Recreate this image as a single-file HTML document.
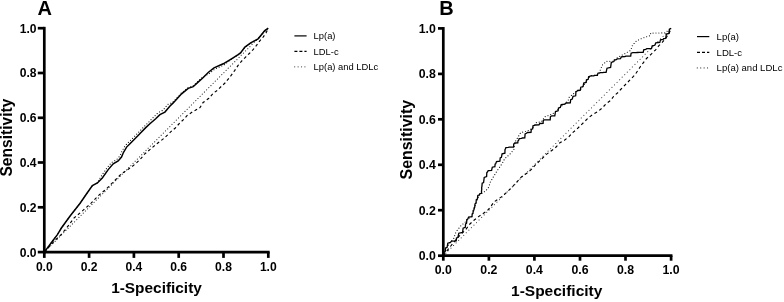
<!DOCTYPE html>
<html><head><meta charset="utf-8"><title>ROC curves</title>
<style>
html,body{margin:0;padding:0;background:#fff;}
body{width:784px;height:302px;overflow:hidden;}
svg{display:block;filter:blur(0.4px);font-family:"Liberation Sans",sans-serif;fill:#000;}
</style></head>
<body>
<svg width="784" height="302" viewBox="0 0 784 302">
<rect x="0" y="0" width="784" height="302" fill="#fff"/>
<g>
<path d="M44.3,252.1 L268.3,28.2" stroke="#333" stroke-width="1.15" stroke-linecap="round" stroke-dasharray="0.01 3.05" fill="none"/>
<path d="M44.3,252.1 L52.4,241.3 L57.4,234.6 L61.4,228.0 L69.9,216.3 L80.1,203.2 L86.6,193.8 L92.4,185.5 L97.4,183.0 L100.8,176.7 L106.7,168.3 L111.7,162.5 L116.7,159.6 L120.0,155.8 L121.7,151.7 L125.1,145.8 L129.2,141.6 L135.9,135.0 L140.0,130.8 L144.0,126.6 L148.4,122.4 L153.8,116.9 L158.0,112.7 L163.0,110.2 L167.9,104.4 L172.7,102.3 L181.1,93.2 L187.7,87.8 L192.7,86.1 L197.6,81.5 L202.5,77.2 L209.0,73.7 L214.8,69.1 L224.0,65.0 L231.5,59.1 L238.1,55.0 L240.5,53.2 L244.9,47.4 L250.7,43.2 L258.1,39.1 L264.8,30.5 L268.3,28.2" stroke="#111" stroke-width="1.15" stroke-linecap="round" stroke-dasharray="0.01 2.9" fill="none"/>
<path d="M44.3,252.1 L54.9,240.4 L60.7,235.0 L66.2,228.5 L74.1,217.9 L82.4,210.9 L91.1,203.2 L98.2,195.8 L106.5,188.8 L117.3,178.0 L121.5,173.7 L126.5,170.4 L131.5,167.1 L136.4,163.0 L140.6,158.8 L144.8,153.9 L154.8,145.4 L163.9,138.4 L172.2,130.5 L175.3,128.0 L179.8,122.9 L183.9,119.2 L187.2,115.4 L192.2,112.1 L197.2,109.2 L200.0,107.6 L203.1,102.5 L208.9,98.3 L213.1,93.3 L217.2,90.4 L221.4,86.3 L225.0,83.0 L230.6,76.2 L234.8,70.4 L238.1,65.4 L241.4,61.3 L245.6,57.1 L249.8,53.0 L253.1,49.6 L256.5,45.4 L259.8,40.9 L263.1,37.1 L266.0,33.0 L268.3,28.2" stroke="#000" stroke-width="1.15" stroke-dasharray="2.9 2.7" fill="none"/>
<path d="M44.3,252.1 L52.4,241.3 L57.4,234.6 L61.4,228.0 L69.9,216.3 L80.1,203.2 L86.6,193.8 L92.4,185.5 L97.4,183.0 L102.3,178.0 L108.2,169.6 L113.2,163.8 L118.2,160.9 L121.5,157.1 L123.2,153.0 L126.6,147.1 L130.7,142.9 L137.4,136.3 L141.5,132.1 L145.5,127.9 L149.9,123.7 L155.7,118.8 L159.9,114.6 L164.9,112.1 L169.8,106.3 L173.2,102.9 L181.6,93.8 L188.2,88.4 L193.2,86.7 L198.1,82.1 L203.0,77.8 L208.2,72.5 L214.0,67.9 L223.2,63.8 L231.5,58.8 L238.1,54.7 L240.5,52.9 L244.9,47.1 L250.7,42.9 L258.1,38.8 L264.8,30.5 L268.3,28.2" stroke="#000" stroke-width="1.5" fill="none" stroke-linejoin="miter"/>
<path d="M44.3,26.849999999999998 L44.3,253.45" stroke="#000" stroke-width="2.7" fill="none"/>
<path d="M42.949999999999996,252.1 L269.65000000000003,252.1" stroke="#000" stroke-width="2.7" fill="none"/>
<path d="M37.8,252.1 L44.3,252.1" stroke="#000" stroke-width="2.7"/>
<path d="M44.3,252.1 L44.3,257.9" stroke="#000" stroke-width="2.7"/>
<text x="36.6" y="256.6" text-anchor="end" font-size="12.1" font-weight="bold">0.0</text>
<text x="44.3" y="270.7" text-anchor="middle" font-size="12.1" font-weight="bold">0.0</text>
<path d="M37.8,207.3 L44.3,207.3" stroke="#000" stroke-width="2.7"/>
<path d="M89.1,252.1 L89.1,257.9" stroke="#000" stroke-width="2.7"/>
<text x="36.6" y="211.8" text-anchor="end" font-size="12.1" font-weight="bold">0.2</text>
<text x="89.1" y="270.7" text-anchor="middle" font-size="12.1" font-weight="bold">0.2</text>
<path d="M37.8,162.5 L44.3,162.5" stroke="#000" stroke-width="2.7"/>
<path d="M133.9,252.1 L133.9,257.9" stroke="#000" stroke-width="2.7"/>
<text x="36.6" y="167.0" text-anchor="end" font-size="12.1" font-weight="bold">0.4</text>
<text x="133.9" y="270.7" text-anchor="middle" font-size="12.1" font-weight="bold">0.4</text>
<path d="M37.8,117.8 L44.3,117.8" stroke="#000" stroke-width="2.7"/>
<path d="M178.7,252.1 L178.7,257.9" stroke="#000" stroke-width="2.7"/>
<text x="36.6" y="122.2" text-anchor="end" font-size="12.1" font-weight="bold">0.6</text>
<text x="178.7" y="270.7" text-anchor="middle" font-size="12.1" font-weight="bold">0.6</text>
<path d="M37.8,73.0 L44.3,73.0" stroke="#000" stroke-width="2.7"/>
<path d="M223.5,252.1 L223.5,257.9" stroke="#000" stroke-width="2.7"/>
<text x="36.6" y="77.4" text-anchor="end" font-size="12.1" font-weight="bold">0.8</text>
<text x="223.5" y="270.7" text-anchor="middle" font-size="12.1" font-weight="bold">0.8</text>
<path d="M37.8,28.2 L44.3,28.2" stroke="#000" stroke-width="2.7"/>
<path d="M268.3,252.1 L268.3,257.9" stroke="#000" stroke-width="2.7"/>
<text x="36.6" y="32.7" text-anchor="end" font-size="12.1" font-weight="bold">1.0</text>
<text x="268.3" y="270.7" text-anchor="middle" font-size="12.1" font-weight="bold">1.0</text>
<text x="156.5" y="293.2" text-anchor="middle" font-size="15.4" font-weight="bold">1-Specificity</text>
<text transform="translate(12.4,137.6) rotate(-90)" text-anchor="middle" font-size="15.6" font-weight="bold">Sensitivity</text>
<text x="44.7" y="14.6" text-anchor="middle" font-size="20" font-weight="bold">A</text>
<path d="M294.4,35.9 L306.6,35.9" stroke="#000" stroke-width="1.2"/>
<text x="313.6" y="39.2" font-size="9.4">Lp(a)</text>
<path d="M294.4,51.3 L306.6,51.3" stroke="#000" stroke-width="1.2" stroke-dasharray="3 2"/>
<text x="313.6" y="54.6" font-size="9.4">LDL-c</text>
<path d="M294.7,66.8 L306.6,66.8" stroke="#444" stroke-width="1.2" stroke-linecap="round" stroke-dasharray="0.01 3.4"/>
<text x="313.6" y="70.1" font-size="9.4">Lp(a) and LDLc</text>
</g>
<g>
<path d="M443.3,255.7 L671.1,28.4" stroke="#444" stroke-width="1.1" stroke-linecap="round" stroke-dasharray="0.01 3.6" fill="none"/>
<path d="M443.3,255.7 L447.1,247.1 L450.4,242.1 L453.8,238.4 L455.4,233.4 L456.6,231.2 L460.8,225.8 L465.8,221.7 L467.8,218.9 L472.0,216.4 L474.0,209.8 L474.7,207.2 L477.4,198.9 L479.5,194.7 L481.5,193.6 L485.7,190.9 L489.0,186.7 L489.8,183.4 L490.3,182.1 L494.0,175.8 L498.2,169.2 L502.3,163.4 L504.8,158.4 L506.6,157.1 L510.7,153.3 L514.0,149.2 L515.3,141.7 L518.2,136.7 L520.7,132.6 L526.6,131.2 L529.5,130.0 L532.5,128.1 L536.5,122.5 L541.5,121.7 L544.8,116.7 L546.5,116.3 L552.7,113.8 L557.5,110.1 L560.3,106.9 L564.9,103.6 L568.0,101.1 L569.0,97.5 L574.8,92.6 L576.9,90.8 L580.2,90.0 L583.1,86.2 L586.1,82.0 L590.3,75.8 L597.4,74.9 L599.5,72.6 L600.3,70.0 L602.3,65.1 L606.5,61.3 L611.5,61.3 L613.9,61.2 L616.6,58.2 L623.3,54.5 L630.7,50.4 L632.4,45.4 L636.5,40.8 L643.2,37.9 L650.3,35.6 L650.7,33.1 L664.8,32.9 L671.1,28.4" stroke="#111" stroke-width="1.15" stroke-linecap="round" stroke-dasharray="0.01 2.9" fill="none"/>
<path d="M443.3,255.7 L449.3,247.8 L457.6,237.8 L465.8,229.4 L469.9,224.0 L474.0,220.3 L478.2,216.9 L482.3,214.0 L487.3,210.7 L490.5,206.9 L494.0,201.9 L501.4,196.9 L508.1,191.1 L513.0,186.1 L517.2,181.6 L521.4,176.9 L526.4,173.6 L531.4,169.4 L535.0,165.3 L546.4,154.4 L555.3,147.8 L559.9,142.8 L564.4,140.3 L569.0,136.6 L572.3,132.9 L576.9,129.1 L580.6,125.4 L588.8,117.5 L592.8,114.5 L597.8,111.6 L602.4,107.8 L606.1,103.7 L610.7,100.4 L614.0,95.8 L618.5,92.1 L620.2,90.0 L629.7,80.2 L635.0,74.8 L640.5,66.5 L646.5,58.5 L651.5,53.9 L655.6,49.8 L658.9,45.6 L662.2,42.3 L665.7,38.4 L669.0,33.4 L671.1,28.4" stroke="#000" stroke-width="1.15" stroke-dasharray="3 2.8" fill="none"/>
<path d="M443.3,255.7 L443.7,252.2 L445.2,251.6 L445.6,248.0 L447.1,247.4 L447.8,243.2 L450.4,242.5 L451.6,241.1 L456.2,240.8 L456.5,238.0 L457.9,237.5 L458.8,233.2 L462.6,232.5 L463.1,228.2 L465.3,227.4 L465.6,223.9 L466.6,223.2 L466.8,219.7 L467.8,219.1 L468.6,217.0 L472.0,216.6 L472.2,213.8 L473.0,213.3 L473.2,210.5 L474.0,210.0 L474.1,207.8 L474.7,207.4 L475.0,203.9 L476.0,203.2 L476.3,199.7 L477.4,199.1 L477.8,195.5 L479.5,194.9 L479.9,193.5 L481.5,193.3 L481.5,190.5 L481.7,189.9 L481.7,187.1 L481.9,186.6 L482.2,183.1 L483.6,182.5 L484.2,177.5 L486.6,176.6 L486.8,172.7 L487.4,172.0 L488.2,170.6 L491.6,170.4 L492.3,167.2 L494.9,166.6 L495.1,164.1 L495.7,163.7 L496.5,161.6 L499.9,161.2 L500.2,158.0 L501.4,157.4 L502.1,153.8 L504.9,153.2 L505.0,149.7 L505.3,149.1 L505.9,147.7 L508.2,147.4 L509.3,147.1 L513.6,147.0 L513.7,144.2 L514.0,143.7 L514.8,143.0 L517.8,142.9 L518.0,140.8 L518.6,140.4 L519.2,138.6 L521.5,138.3 L522.2,138.0 L524.8,137.9 L525.1,134.0 L526.5,133.3 L527.4,132.5 L531.0,132.4 L531.3,129.4 L532.7,128.8 L533.0,125.8 L534.4,125.3 L535.3,125.0 L539.0,124.9 L539.8,123.5 L543.1,123.3 L543.3,120.4 L544.0,119.9 L544.6,119.9 L547.1,119.9 L547.7,119.9 L550.2,119.9 L550.4,116.8 L551.0,116.2 L551.8,115.9 L554.8,115.8 L555.5,111.5 L558.1,110.8 L558.5,107.9 L560.3,107.4 L561.2,104.6 L564.9,104.1 L566.0,103.0 L570.3,102.8 L570.7,99.7 L572.3,99.1 L573.0,96.3 L575.7,95.8 L575.9,91.9 L576.9,91.2 L577.6,90.5 L580.2,90.4 L580.8,87.2 L583.1,86.6 L583.7,83.0 L586.1,82.4 L586.5,79.8 L588.2,79.3 L588.6,76.7 L590.3,76.2 L591.0,75.8 L593.8,75.8 L594.6,75.4 L597.4,75.3 L597.9,73.2 L599.9,72.8 L600.5,72.6 L603.0,72.6 L603.6,72.4 L606.1,72.4 L607.0,68.2 L610.6,67.5 L611.3,62.5 L613.9,61.6 L614.4,59.9 L616.4,59.6 L617.2,58.8 L620.5,58.6 L621.4,56.8 L624.9,56.5 L626.1,56.2 L630.7,56.1 L631.1,53.2 L632.8,52.7 L633.5,52.6 L636.3,52.6 L637.0,52.5 L639.7,52.4 L640.4,52.3 L643.2,52.3 L643.7,49.8 L645.7,49.4 L646.9,48.7 L651.5,48.6 L652.2,45.8 L654.8,45.3 L655.8,42.8 L659.8,42.4 L660.5,39.9 L663.1,39.5 L663.6,38.6 L665.7,38.4 L666.4,34.1 L669.0,33.4 L669.4,29.1 L671.1,28.4" stroke="#000" stroke-width="1.3" fill="none" stroke-linejoin="miter"/>
<path d="M443.3,27.049999999999997 L443.3,257.05" stroke="#000" stroke-width="2.7" fill="none"/>
<path d="M441.95,255.7 L672.45,255.7" stroke="#000" stroke-width="2.7" fill="none"/>
<path d="M438.0,255.7 L443.3,255.7" stroke="#000" stroke-width="2.7"/>
<path d="M443.3,255.7 L443.3,260.7" stroke="#000" stroke-width="2.7"/>
<text x="435.8" y="260.2" text-anchor="end" font-size="12.3" font-weight="bold">0.0</text>
<text x="443.3" y="274.3" text-anchor="middle" font-size="12.3" font-weight="bold">0.0</text>
<path d="M438.0,210.2 L443.3,210.2" stroke="#000" stroke-width="2.7"/>
<path d="M488.9,255.7 L488.9,260.7" stroke="#000" stroke-width="2.7"/>
<text x="435.8" y="214.8" text-anchor="end" font-size="12.3" font-weight="bold">0.2</text>
<text x="488.9" y="274.3" text-anchor="middle" font-size="12.3" font-weight="bold">0.2</text>
<path d="M438.0,164.8 L443.3,164.8" stroke="#000" stroke-width="2.7"/>
<path d="M534.4,255.7 L534.4,260.7" stroke="#000" stroke-width="2.7"/>
<text x="435.8" y="169.3" text-anchor="end" font-size="12.3" font-weight="bold">0.4</text>
<text x="534.4" y="274.3" text-anchor="middle" font-size="12.3" font-weight="bold">0.4</text>
<path d="M438.0,119.3 L443.3,119.3" stroke="#000" stroke-width="2.7"/>
<path d="M580.0,255.7 L580.0,260.7" stroke="#000" stroke-width="2.7"/>
<text x="435.8" y="123.8" text-anchor="end" font-size="12.3" font-weight="bold">0.6</text>
<text x="580.0" y="274.3" text-anchor="middle" font-size="12.3" font-weight="bold">0.6</text>
<path d="M438.0,73.9 L443.3,73.9" stroke="#000" stroke-width="2.7"/>
<path d="M625.5,255.7 L625.5,260.7" stroke="#000" stroke-width="2.7"/>
<text x="435.8" y="78.4" text-anchor="end" font-size="12.3" font-weight="bold">0.8</text>
<text x="625.5" y="274.3" text-anchor="middle" font-size="12.3" font-weight="bold">0.8</text>
<path d="M438.0,28.4 L443.3,28.4" stroke="#000" stroke-width="2.7"/>
<path d="M671.1,255.7 L671.1,260.7" stroke="#000" stroke-width="2.7"/>
<text x="435.8" y="32.9" text-anchor="end" font-size="12.3" font-weight="bold">1.0</text>
<text x="671.1" y="274.3" text-anchor="middle" font-size="12.3" font-weight="bold">1.0</text>
<text x="556.7" y="296.3" text-anchor="middle" font-size="15.5" font-weight="bold">1-Specificity</text>
<text transform="translate(412.1,139.7) rotate(-90)" text-anchor="middle" font-size="15.9" font-weight="bold">Sensitivity</text>
<text x="446.5" y="14.6" text-anchor="middle" font-size="20" font-weight="bold">B</text>
<path d="M697,36.6 L709.3,36.6" stroke="#000" stroke-width="1.2"/>
<text x="716.6" y="39.9" font-size="9.55">Lp(a)</text>
<path d="M697,52.4 L709.3,52.4" stroke="#000" stroke-width="1.2" stroke-dasharray="3 2"/>
<text x="716.6" y="55.7" font-size="9.55">LDL-c</text>
<path d="M697.3,67.9 L709.3,67.9" stroke="#444" stroke-width="1.2" stroke-linecap="round" stroke-dasharray="0.01 3.4"/>
<text x="716.6" y="71.2" font-size="9.55">Lp(a) and LDLc</text>
</g>
</svg>
</body></html>
